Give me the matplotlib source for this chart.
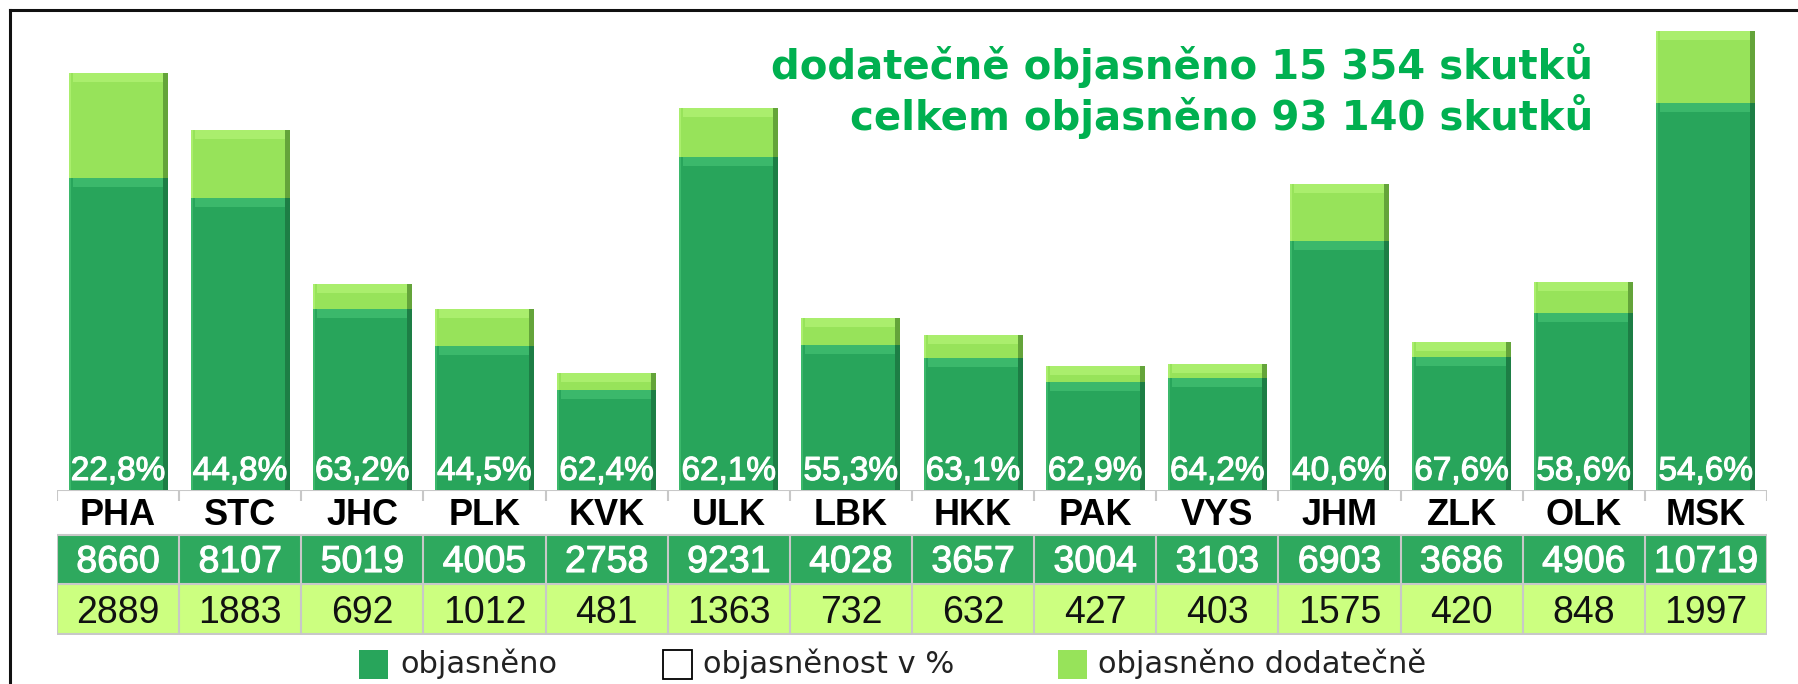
import numpy as np
import matplotlib
matplotlib.use('Agg')
import matplotlib.pyplot as plt
import matplotlib.patheffects as pe
from matplotlib.patches import Rectangle
from matplotlib.lines import Line2D

plt.rcParams['font.family'] = ['Liberation Sans', 'DejaVu Sans']

# data
regions = ['PHA', 'STC', 'JHC', 'PLK', 'KVK', 'ULK', 'LBK',
           'HKK', 'PAK', 'VYS', 'JHM', 'ZLK', 'OLK', 'MSK']
objasneno = [8660, 8107, 5019, 4005, 2758, 9231, 4028,
             3657, 3004, 3103, 6903, 3686, 4906, 10719]
dodatecne = [2889, 1883, 692, 1012, 481, 1363, 732,
             632, 427, 403, 1575, 420, 848, 1997]
objasnenost = [22.8, 44.8, 63.2, 44.5, 62.4, 62.1, 55.3,
               63.1, 62.9, 64.2, 40.6, 67.6, 58.6, 54.6]
note_lines = ['dodatečně objasněno 15 354 skutků',
              'celkem objasněno 93 140 skutků']
legend_labels = ['objasněno', 'objasněnost v %', 'objasněno dodatečně']

DARK = '#28a55b'
DARK_HI = '#3bb86b'
DARK_EDGE = '#1d7e45'
LIGHT = '#97e35a'
LIGHT_HI = '#aaee6d'
LIGHT_EDGE = '#64a43a'
ROW_GREEN = '#2ea95e'
ROW_LIGHT = '#ccff80'
GRID = '#c8c8c8'
NOTE = '#00b050'

W, H = 1798, 684
fig = plt.figure(figsize=(W / 100, H / 100), dpi=100)


def box(x0, y0, x1, y1):
    # pixel box measured from the top-left corner -> figure fraction
    return [x0 / W, 1 - y1 / H, (x1 - x0) / W, (y1 - y0) / H]


X0, X1 = 57, 1767
BASE, TOP = 490, 21
YMAX = 13000
n = len(regions)

ax = fig.add_axes(box(X0, TOP, X1, BASE))
ax.set_xlim(-0.5, n - 0.5)
ax.set_ylim(0, YMAX)
ax.axis('off')

x = np.arange(n)
bw = 0.81
ux = n / (X1 - X0)        # data units per pixel, x
uy = YMAX / (BASE - TOP)  # data units per pixel, y

ax.bar(x, objasneno, bw, color=DARK, zorder=2)
ax.bar(x, dodatecne, bw, bottom=objasneno, color=LIGHT, zorder=2)

# bevel look: lighter strip on top, darker strip on the right, thin light left edge
segs = [(np.zeros(n), np.array(objasneno), DARK_HI, DARK_EDGE),
        (np.array(objasneno), np.array(dodatecne), LIGHT_HI, LIGHT_EDGE)]
for bottom, height, hi, edge in segs:
    top = bottom + height
    ax.bar(x, 9 * uy, bw - 8 * ux, bottom=top - 9 * uy, color=hi, zorder=3)
    ax.bar(x + bw / 2 - 5 * ux, height, 5 * ux, bottom=bottom,
           align='edge', color=edge, zorder=3)
    ax.bar(x - bw / 2, height, 2 * ux, bottom=bottom,
           align='edge', color=hi, zorder=3)

white_fx = [pe.withStroke(linewidth=0.8, foreground='white')]

for xi, p in zip(x, objasnenost):
    ax.annotate(f'{p:.1f}%'.replace('.', ','), (xi, 0), xytext=(0, 10),
                textcoords='offset pixels', ha='center', va='baseline',
                color='white', fontsize=24, zorder=4, path_effects=white_fx)

# data table under the bars
tab = fig.add_axes(box(X0, BASE, X1, 635))
tab.set_xlim(-0.5, n - 0.5)
tab.set_ylim(635 - BASE, 0)
tab.axis('off')

tab.add_patch(Rectangle((-0.5, 45), n, 49, facecolor=ROW_GREEN, edgecolor='none'))
tab.add_patch(Rectangle((-0.5, 94), n, 51, facecolor=ROW_LIGHT, edgecolor='none'))
edges = np.arange(n + 1) - 0.5
tab.hlines([0, 45, 94, 144], -0.5, n - 0.5, color=GRID, lw=1.5)
tab.vlines(edges, 0, 11, color=GRID, lw=1.5)
tab.vlines(edges, 45, 144, color=GRID, lw=1.5)

for xi, r, a, b in zip(x, regions, objasneno, dodatecne):
    tab.text(xi, 35, r, ha='center', va='baseline', fontsize=26,
             fontweight='bold', color='black')
    tab.text(xi, 82, str(a), ha='center', va='baseline', fontsize=27,
             color='white', path_effects=white_fx)
    tab.text(xi, 133, str(b), ha='center', va='baseline', fontsize=27,
             color='#111111')

# legend
leg_items = [(359, 400, DARK, 'none'), (663, 703, 'white', 'black'),
             (1058, 1098, LIGHT, 'none')]
for (sx, tx, fc, ec), lab in zip(leg_items, legend_labels):
    fig.add_artist(Rectangle((sx / W, 1 - 679 / H), 29 / W, 29 / H,
                             transform=fig.transFigure, facecolor=fc,
                             edgecolor=ec, lw=1.3))
    fig.text(tx / W, 1 - 673 / H, lab, ha='left', va='baseline',
             fontsize=22, family='DejaVu Sans', color='#222222')

# note
for base_y, line in zip([79, 130], note_lines):
    fig.text(1593 / W, 1 - base_y / H, line, ha='right', va='baseline',
             fontsize=29, fontweight='bold', family='DejaVu Sans', color=NOTE)

# frame (top and left only)
fig.add_artist(Line2D([10 / W, 10 / W], [0, 1 - 10 / H], color='#111111',
                      lw=2.2, transform=fig.transFigure))
fig.add_artist(Line2D([10 / W, 1], [1 - 10 / H, 1 - 10 / H], color='#111111',
                      lw=2.2, transform=fig.transFigure))

fig.savefig('out.png', dpi=100, facecolor='white')
